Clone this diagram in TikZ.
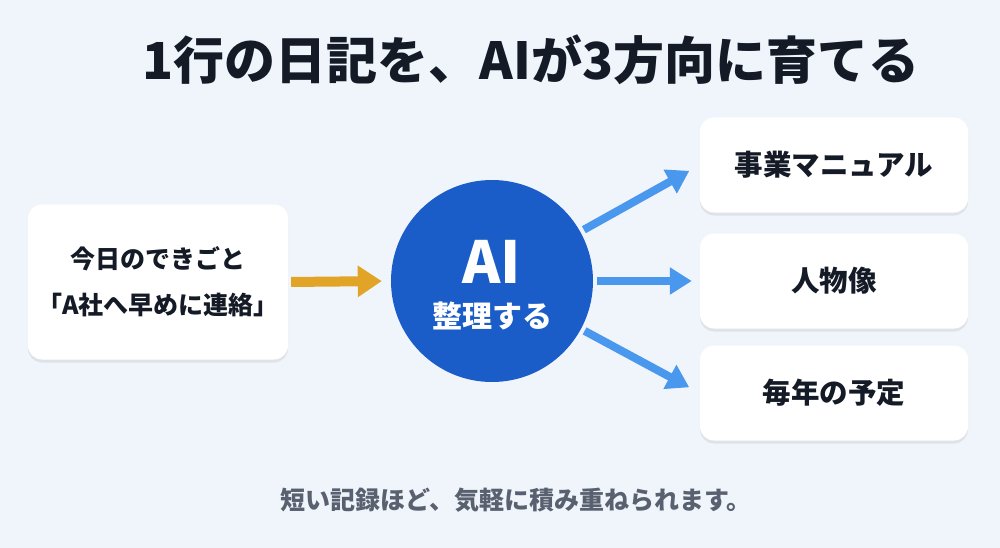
\documentclass[tikz,border=0pt]{standalone}
\usepackage{fontspec}
\newfontfamily\jp{Noto Sans CJK JP}
\usetikzlibrary{arrows.meta,shadows}
\definecolor{bg}{HTML}{F0F5FB}
\definecolor{ink}{HTML}{141A26}
\definecolor{aiblue}{HTML}{1A5CC8}
\definecolor{arrblue}{HTML}{4A98EE}
\definecolor{gold}{HTML}{E1A426}
\definecolor{note}{HTML}{596170}
\tikzset{
  card/.style={draw=none, fill=white, rounded corners=14pt, align=center, text=ink,
    drop shadow={shadow xshift=0pt, shadow yshift=-3pt, opacity=0.07, fill=black}},
  srcbox/.style={card, minimum width=260pt, minimum height=155pt},
  outbox/.style={card, minimum width=268pt, minimum height=95pt,
    font=\jp\bfseries\fontsize{28.5}{32}\selectfont},
  flow/.style={line width=8pt, color=arrblue, -{Triangle[length=22pt,width=26pt]}},
  feed/.style={line width=10pt, color=gold, -{Triangle[length=24pt,width=30pt]}},
}
\begin{document}
\begin{tikzpicture}[x=1pt,y=-1pt]
\useasboundingbox (0,0) rectangle (1000,548);
\fill[bg] (0,0) rectangle (1000,548);
\node[text=ink, font=\jp\bfseries\fontsize{51}{56}\selectfont] (title) at (531,60) {1行の日記を、AIが3方向に育てる};
\node[srcbox, font=\jp\bfseries\fontsize{25}{46}\selectfont] (src) at (158,282) {今日のできごと\\「A社へ早めに連絡」};
\node[circle, fill=aiblue, minimum size=202pt, inner sep=0pt, align=center, text=white] (ai) at (492,281) {};
\node[text=white, font=\jp\bfseries\fontsize{58}{60}\selectfont] (ailabel) at (492,262) {AI};
\node[text=white, font=\jp\bfseries\fontsize{30}{34}\selectfont] (aisub) at (492,316) {整理する};
\node[outbox] (out1) at (834,165) {事業マニュアル};
\node[outbox] (out2) at (834,281) {人物像};
\node[outbox] (out3) at (834,393) {毎年の予定};
\draw[feed, shorten <=3pt, shorten >=9pt] (src.east) -- (ai.west);
\draw[flow, shorten <=4pt, shorten >=12pt] (ai) -- (out1.west);
\draw[flow, shorten <=4pt, shorten >=8pt] (ai.east) -- (out2.west);
\draw[flow, shorten <=4pt, shorten >=12pt] (ai) -- (out3.west);
\node[text=note, font=\jp\bfseries\fontsize{25}{28}\selectfont] (note) at (516,500) {短い記録ほど、気軽に積み重ねられます。};
\end{tikzpicture}
\end{document}
